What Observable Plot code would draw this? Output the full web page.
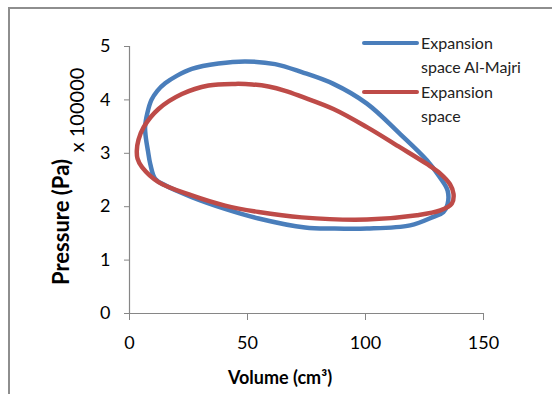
<!DOCTYPE html>
<html>
<head>
<meta charset="utf-8">
<script src="https://cdn.jsdelivr.net/npm/d3@7"></script>
<script src="https://cdn.jsdelivr.net/npm/@observablehq/plot@0.6"></script>
<style>
  html, body { margin: 0; padding: 0; background: #fff; }
  #wrap { position: relative; width: 552px; height: 394px; overflow: hidden; font-family: Lato, "Open Sans", sans-serif; }
  #frame { position: absolute; left: 8px; top: 7px; width: 600px; height: 450px; border-left: 2px solid #8e8e8e; border-top: 2px solid #8e8e8e; }
  #legend { position: absolute; left: 362px; top: 31px; font-size: 16px; color: #222; }
  .item { display: flex; align-items: flex-start; margin-bottom: 2px; }
  .sw { width: 57px; height: 4px; margin-top: 10px; margin-right: 2px; border-radius: 2px; flex: none; }
  .lab { line-height: 23.5px; }
  .title { position: absolute; white-space: nowrap; color: #000; transform-origin: center center; }
  svg { position: absolute; left: 0; top: 0; }
</style>
</head>
<body>
<div id="wrap">
  <div id="frame"></div>
  <div id="chart"></div>
  <div id="legend"></div>
  <div id="titles"></div>
</div>
<script>
// Series names
const seriesNames = ["Expansion space Al-Majri", "Expansion space"];
const seriesLegend = [["Expansion", "space Al-Majri"], ["Expansion", "space"]];
const seriesColors = ["#4a7ebb", "#be4b48"];

// Axis titles
const yTitle = "Pressure (Pa)";
const yUnit = "x 100000";
const xTitle = "Volume (cm³)";

// Blue loop (Al-Majri): volume (cm3), pressure (x 100000 Pa)
const blueV = [6.6, 7.6, 9.3, 11.8, 15.1, 20.0, 26.4, 37.7, 49.0, 61.7, 73.0, 86.4, 100.6, 114.7, 126.0, 131.5, 134.8, 134.8, 133.0, 128.8, 118.9, 100.6, 86.4, 74.4, 54.7, 40.5, 26.4, 15.1, 10.9, 8.8, 7.8, 6.9];
const blueP = [3.49, 3.76, 4.00, 4.17, 4.31, 4.45, 4.58, 4.68, 4.72, 4.67, 4.52, 4.30, 3.93, 3.36, 2.87, 2.55, 2.30, 2.05, 1.90, 1.81, 1.65, 1.59, 1.59, 1.61, 1.78, 1.96, 2.18, 2.40, 2.52, 2.80, 3.05, 3.30];

// Red loop (Expansion space)
const redV = [3.1, 3.8, 6.0, 12.3, 22.2, 33.5, 44.8, 52.0, 58.9, 66.0, 73.0, 86.4, 100.6, 114.7, 126.0, 131.7, 135.8, 137.3, 136.6, 131.7, 121.8, 100.6, 73.0, 54.7, 40.5, 26.4, 12.3, 5.3, 3.4];
const redP = [3.05, 3.25, 3.49, 3.83, 4.11, 4.27, 4.30, 4.29, 4.25, 4.17, 4.06, 3.83, 3.49, 3.11, 2.80, 2.62, 2.42, 2.24, 2.06, 1.93, 1.84, 1.76, 1.80, 1.90, 2.02, 2.21, 2.46, 2.74, 2.90];

// Axis ticks
const xTicks = [0, 50, 100, 150];
const yTicks = [0, 1, 2, 3, 4, 5];

const toRows = (vs, ps, s) => vs.map((v, i) => ({V: v, P: ps[i], series: s}));
const blue = toRows(blueV, blueP, seriesNames[0]);
const red = toRows(redV, redP, seriesNames[1]);

const axisColor = "#868686";

const chart = Plot.plot({
  width: 552,
  height: 394,
  marginLeft: 129,
  marginRight: 69,
  marginTop: 46,
  marginBottom: 81,
  style: { fontFamily: "Lato, 'Open Sans', sans-serif", fontSize: "18px", color: "#000", background: "transparent" },
  x: { domain: [0, 150] },
  y: { domain: [0, 5] },
  marks: [
    Plot.ruleX([0], { stroke: axisColor, strokeWidth: 1.2 }),
    Plot.ruleY([0], { stroke: axisColor, strokeWidth: 1.2 }),
    Plot.axisX({ ticks: xTicks, tickSize: 7, tickPadding: 16, stroke: axisColor, label: null, tickFormat: d => String(d), fill: "#000" }),
    Plot.axisY({ ticks: yTicks, tickSize: 5, tickPadding: 14, stroke: axisColor, label: null, tickFormat: d => String(d), fill: "#000" }),
    Plot.line(blue, { x: "V", y: "P", stroke: seriesColors[0], strokeWidth: 4.5, curve: "catmull-rom-closed" }),
    Plot.line(red, { x: "V", y: "P", stroke: seriesColors[1], strokeWidth: 4.5, curve: "catmull-rom-closed" })
  ]
});
document.getElementById("chart").appendChild(chart);

// Axis titles as HTML text
const titles = document.getElementById("titles");
function addTitle(text, cx, cy, size, weight, rot) {
  const d = document.createElement("div");
  d.className = "title";
  d.textContent = text;
  d.style.fontSize = size + "px";
  d.style.fontWeight = weight;
  d.style.left = cx + "px";
  d.style.top = cy + "px";
  d.style.transform = "translate(-50%, -50%) rotate(" + rot + "deg)";
  titles.appendChild(d);
}
addTitle(yTitle, 60, 222, 22, "bold", -90);
addTitle(yUnit, 76, 110, 20, "normal", -90);
addTitle(xTitle, 280, 377, 18, "bold", 0);

const legend = document.getElementById("legend");
seriesLegend.forEach((lines, i) => {
  const item = document.createElement("div");
  item.className = "item";
  const sw = document.createElement("div");
  sw.className = "sw";
  sw.style.background = seriesColors[i];
  const lab = document.createElement("div");
  lab.className = "lab";
  lab.innerHTML = lines.join("<br>");
  item.appendChild(sw);
  item.appendChild(lab);
  legend.appendChild(item);
});
</script>
</body>
</html>
